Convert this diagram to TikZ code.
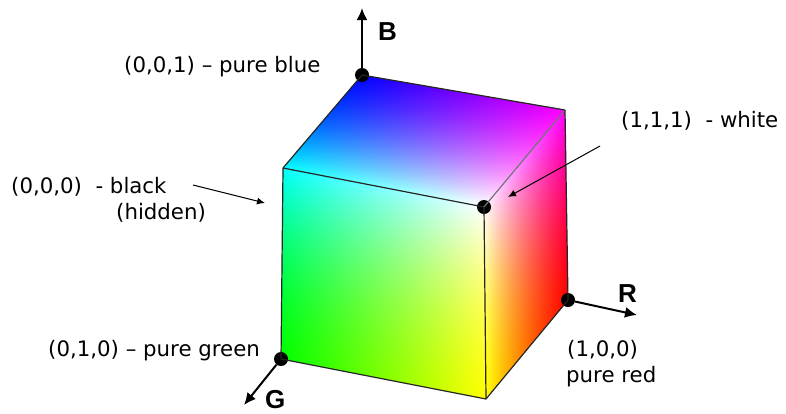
\documentclass[tikz,border=0pt]{standalone}
\usepackage{fontspec}
\usetikzlibrary{arrows.meta}
\setmainfont{DejaVu Sans}
\newfontfamily\axisfont{Liberation Sans}
\pgfdeclarefunctionalshading{frontface}{\pgfpointorigin}{\pgfpoint{100bp}{100bp}}{}{
	0.024 mul 0.7 sub exch 0.024 mul 0.7 sub exch
	dup dup mul 0.6 mul exch 0.4 mul add 1 exch
}
\pgfdeclarefunctionalshading{rightface}{\pgfpointorigin}{\pgfpoint{100bp}{100bp}}{}{
	0.024 mul 0.7 sub exch 0.024 mul 0.7 sub exch
	dup dup mul 0.6 mul exch 0.4 mul add
	exch 1 exch sub dup dup mul 0.25 mul exch 0.75 mul add exch 1 3 1 roll
}
\pgfdeclarefunctionalshading{topface}{\pgfpointorigin}{\pgfpoint{100bp}{100bp}}{}{
	0.024 mul 0.7 sub exch 0.024 mul 0.7 sub exch
	1 exch sub dup dup mul 0.5 mul exch 0.5 mul add 1
}
\begin{document}
\begin{tikzpicture}[x=1pt,y=-1pt,
				dot/.style={circle, fill=black, inner sep=0pt, minimum size=14pt},
				label/.style={anchor=base west, inner sep=0pt, font=\fontsize{21.3}{24}\selectfont},
				axis/.style={anchor=base west, inner sep=0pt, font=\axisfont\bfseries\fontsize{26}{30}\selectfont},
				edge/.style={line width=1.2pt, draw=black!85},
				axisline/.style={-{Latex[length=12pt,width=11pt]}, line width=2pt},
				pointer/.style={-{Latex[length=8pt,width=7pt]}, line width=1pt}
				]
				\useasboundingbox (0,0) rectangle (786,413);
				\coordinate (cyan) at (283,168);
				\coordinate (magenta) at (565,110);
				\coordinate (yellow) at (486,399);
				\begin{scope}
					\clip (281,359) -- (cyan) -- (484,207) -- (yellow) -- cycle;
					\shade[shading=frontface, transform canvas={cm={2.436,-0.474,0,2.298,(260.7,374.2)}}] (0pt,0pt) rectangle (100pt,100pt);
				\end{scope}
				\begin{scope}
					\clip (yellow) -- (568,300) -- (magenta) -- (484,207) -- cycle;
					\shade[shading=rightface, transform canvas={cm={0.978,1.176,-0.03,2.292,(478.1,427.9)}}] (0pt,0pt) rectangle (100pt,100pt);
				\end{scope}
				\begin{scope}
					\clip (cyan) -- (484,207) -- (magenta) -- (362,75) -- cycle;
					\shade[shading=topface, transform canvas={cm={2.424,-0.444,0.96,1.14,(254.8,173.8)}}] (0pt,0pt) rectangle (100pt,100pt);
				\end{scope}
				\node[dot] (blue) at (362,75) {};
				\node[dot] (white) at (484,207) {};
				\node[dot] (green) at (281,359) {};
				\node[dot] (red) at (568,300) {};
				\coordinate (btip) at (362,8);
				\coordinate (gtip) at (244,405);
				\coordinate (rtip) at (637,315);
				\coordinate (whitefrom) at (600,146);
				\coordinate (whiteto) at (508,197);
				\coordinate (blackfrom) at (193,185);
				\coordinate (blackto) at (265,203);
				\draw[edge] (blue.center) -- (magenta);
				\draw[edge] (blue.center) -- (cyan);
				\draw[edge] (cyan) -- (white.center);
				\draw[edge, draw=black!55] (white.center) -- (magenta);
				\draw[edge] (cyan) -- (green.center);
				\draw[edge] (white.center) -- (yellow);
				\draw[edge] (magenta) -- (red.center);
				\draw[edge] (green.center) -- (yellow);
				\draw[edge] (yellow) -- (red.center);
				\draw[axisline] (blue) -- (btip);
				\draw[axisline] (green) -- (gtip);
				\draw[axisline] (red) -- (rtip);
				\draw[pointer] (whitefrom) -- (whiteto);
				\draw[pointer] (blackfrom) -- (blackto);
				\node[axis] (bname) at (378,40) {B};
				\node[axis] (rname) at (618,302) {R};
				\node[axis] (gname) at (265,408) {G};
				\node[label] (bluetext) at (124,72) {(0,0,1) – pure blue};
				\node[label] (whitetext) at (621,127) {(1,1,1) \ - white};
				\node[label] (blacktext) at (11,193) {(0,0,0) \ - black};
				\node[label] (hiddentext) at (116,219) {(hidden)};
				\node[label] (greentext) at (48,356) {(0,1,0) – pure green};
				\node[label] (redtext) at (567,356) {(1,0,0)};
				\node[label] (redtext2) at (566,382) {pure red};
			\end{tikzpicture}
\end{document}
